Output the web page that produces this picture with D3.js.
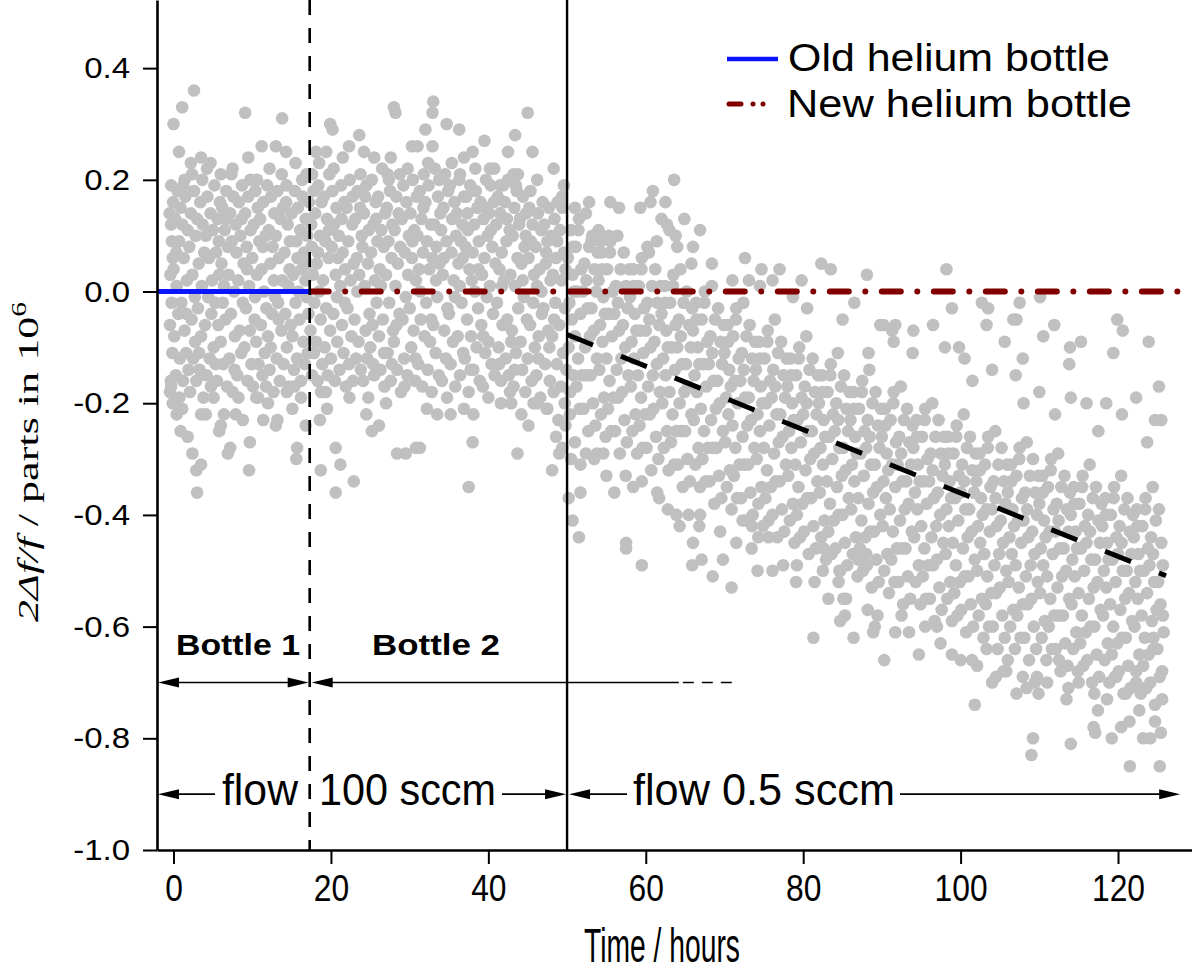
<!DOCTYPE html>
<html><head><meta charset="utf-8">
<script src="https://cdn.jsdelivr.net/npm/d3@7"></script>
<style>html,body{margin:0;padding:0;background:#fff}</style>
</head><body>
<svg id="chart" width="1192" height="976"></svg>
<script>
// ---------- data ----------
const xTicks = [0, 20, 40, 60, 80, 100, 120];
const yTicks = [-1.0, -0.8, -0.6, -0.4, -0.2, 0.0, 0.2, 0.4];
const xTitle = "Time / hours";
const legendLabels = ["Old helium bottle", "New helium bottle"];
const bottleChange = 17.3;   // hours
const flowChange = 50;       // hours
const oldBottleLevel = [[-2.1, 0], [17.3, 0]];
const newBottleLevel = [[17.3, 0], [129.4, 0]];
const driftFit = [[50, -0.077], [126.1, -0.509]];

const bottle1Points = [
[-0.5,0.14],[-0.45,-0.06],[-0.4,0.03],[-0.35,-0.16],[-0.3,0.19],[-0.25,-0.02],[-0.2,0.09],[-0.15,-0.11],[-0.1,0.06],[-0.05,0.16],[-0.45,-0.18],[-0.3,0.12],
[0.0,0.04],[0.1,-0.08],[0.2,0.13],[0.3,-0.15],[0.4,0.01],[0.5,0.18],[0.6,-0.04],[0.7,0.09],[0.8,-0.12],[0.9,0.15],[0.35,0.07],[0.75,-0.19],
[1.0,-0.02],[1.1,0.12],[1.2,-0.16],[1.3,0.06],[1.4,-0.07],[1.5,0.17],[1.6,-0.11],[1.7,0.02],[1.8,0.11],[1.9,-0.14],[1.25,0.19],[1.65,-0.04],
[2.0,0.08],[2.1,-0.18],[2.2,0.14],[2.3,-0.05],[2.4,0.03],[2.5,-0.12],[2.6,0.18],[2.7,-0.01],[2.8,0.10],[2.9,-0.16],[2.35,0.21],[2.75,-0.09],
[3.0,0.13],[3.1,-0.03],[3.2,0.05],[3.3,-0.14],[3.4,0.16],[3.5,-0.08],[3.6,0.01],[3.7,0.12],[3.8,-0.19],[3.9,0.07],[3.25,-0.11],[3.65,0.20],
[4.0,-0.06],[4.1,0.10],[4.2,-0.15],[4.3,0.17],[4.4,-0.01],[4.5,0.06],[4.6,-0.12],[4.7,0.14],[4.8,-0.04],[4.9,0.02],[4.25,0.22],[4.75,-0.17],
[5.0,0.11],[5.1,-0.10],[5.2,0.19],[5.3,-0.02],[5.4,0.07],[5.5,-0.16],[5.6,0.13],[5.7,-0.06],[5.8,0.03],[5.9,0.16],[5.35,-0.13],[5.75,0.09],
[6.0,-0.09],[6.1,0.05],[6.2,0.15],[6.3,-0.13],[6.4,0.01],[6.5,0.11],[6.6,-0.05],[6.7,0.18],[6.8,-0.17],[6.9,0.08],[6.25,-0.02],[6.65,0.13],
[7.0,0.03],[7.1,-0.12],[7.2,0.14],[7.3,-0.04],[7.4,0.09],[7.5,-0.18],[7.6,0.17],[7.7,0.00],[7.8,-0.08],[7.9,0.12],[7.35,0.21],[7.75,-0.14],
[8.0,0.07],[8.1,-0.15],[8.2,0.02],[8.3,0.16],[8.4,-0.07],[8.5,0.10],[8.6,-0.11],[8.7,0.19],[8.8,-0.02],[8.9,0.05],[8.25,-0.19],[8.65,0.13],
[9.0,-0.10],[9.1,0.14],[9.2,-0.03],[9.3,0.08],[9.4,-0.16],[9.5,0.17],[9.6,0.01],[9.7,-0.07],[9.8,0.11],[9.9,-0.13],[9.35,0.04],[9.75,0.20],
[10.0,0.06],[10.1,-0.17],[10.2,0.12],[10.3,-0.05],[10.4,0.18],[10.5,-0.09],[10.6,0.03],[10.7,0.15],[10.8,-0.13],[10.9,0.09],[10.35,-0.01],[10.75,-0.19],
[11.0,0.13],[11.1,-0.06],[11.2,0.04],[11.3,-0.15],[11.4,0.16],[11.5,0.00],[11.6,-0.11],[11.7,0.10],[11.8,-0.03],[11.9,0.19],[11.35,0.08],[11.75,-0.17],
[12.0,-0.08],[12.1,0.11],[12.2,-0.14],[12.3,0.05],[12.4,0.17],[12.5,-0.04],[12.6,0.08],[12.7,-0.18],[12.8,0.14],[12.9,-0.01],[12.35,-0.10],[12.75,0.02],
[13.0,0.10],[13.1,-0.12],[13.2,0.18],[13.3,-0.02],[13.4,0.06],[13.5,-0.16],[13.6,0.13],[13.7,-0.07],[13.8,0.02],[13.9,0.15],[13.35,-0.05],[13.75,0.21],
[14.0,-0.13],[14.1,0.07],[14.2,-0.04],[14.3,0.16],[14.4,-0.10],[14.5,0.12],[14.6,0.01],[14.7,-0.17],[14.8,0.09],[14.9,-0.06],[14.35,0.19],[14.75,0.04],
[15.0,0.14],[15.1,-0.08],[15.2,0.03],[15.3,-0.14],[15.4,0.18],[15.5,-0.02],[15.6,0.09],[15.7,-0.12],[15.8,0.15],[15.9,0.00],[15.35,-0.17],[15.75,0.06],
[16.0,-0.05],[16.1,0.11],[16.2,-0.16],[16.3,0.04],[16.4,0.17],[16.5,-0.09],[16.6,0.07],[16.7,-0.13],[16.8,0.13],[16.9,-0.01],[16.35,0.20],[16.75,0.02],
[17.0,0.10],[17.05,-0.11],[17.1,0.05],[17.15,-0.04],[17.2,0.16]
];
const bottle1Outliers = [
[0.0,0.30],[1.1,0.33],[2.6,0.36],[9.1,0.32],[13.8,0.31],[0.7,0.25],[11.2,0.26],[13.0,0.26],[14.3,0.25],[9.5,0.24],
[2.2,0.23],[3.5,0.24],[4.7,0.23],[1.4,0.20],[15.5,0.23],[16.9,0.21],[6.0,0.21],[7.5,0.22],[10.6,0.20],[12.2,0.22],
[3.0,-0.36],[9.6,-0.32],[3.5,-0.31],[2.9,-0.32],[2.4,-0.29],[1.8,-0.26],[0.9,-0.25],[6.9,-0.29],[7.2,-0.28],[9.7,-0.27],
[5.8,-0.25],[6.0,-0.24],[11.4,-0.23],[13.0,-0.24],[13.2,-0.23],[15.7,-0.28],[15.6,-0.30],[16.8,-0.24],[15.1,-0.21],[7.9,-0.22],
[6.4,-0.22],[3.5,-0.22],[4.1,-0.22],[1.1,-0.21],[-0.1,-0.20],[-0.3,-0.17],[0.4,-0.22],[10.5,-0.19],[12.0,-0.20],[14.4,-0.18],
[16.2,-0.19],[8.8,-0.23],[5.1,-0.19]
];
const bottle2Points = [
[17.4,-0.07],[17.5,0.12],[17.6,-0.15],[17.7,0.03],[17.8,0.18],[17.9,-0.02],[17.55,0.08],[17.85,-0.11],
[18.0,0.14],[18.1,-0.09],[18.2,0.05],[18.3,-0.16],[18.4,0.19],[18.5,0.00],[18.6,0.10],[18.7,-0.05],[18.8,0.16],[18.9,-0.13],[18.35,0.07],[18.75,-0.18],
[19.0,0.02],[19.1,0.17],[19.2,-0.10],[19.3,0.09],[19.4,-0.03],[19.5,0.13],[19.6,-0.15],[19.7,0.06],[19.8,0.21],[19.9,-0.07],[19.35,-0.18],[19.75,0.11],
[20.0,-0.12],[20.1,0.08],[20.2,0.18],[20.3,-0.04],[20.4,0.12],[20.5,-0.16],[20.6,0.03],[20.7,0.15],[20.8,-0.09],[20.9,0.06],[20.35,0.22],[20.75,-0.01],
[21.0,0.10],[21.1,-0.14],[21.2,0.01],[21.3,0.19],[21.4,-0.06],[21.5,0.07],[21.6,-0.11],[21.7,0.16],[21.8,0.04],[21.9,-0.17],[21.35,0.13],[21.75,-0.02],
[22.0,0.15],[22.1,-0.03],[22.2,0.09],[22.3,-0.13],[22.4,0.20],[22.5,0.02],[22.6,-0.08],[22.7,0.12],[22.8,-0.16],[22.9,0.05],[22.35,-0.19],[22.75,0.17],
[23.0,-0.05],[23.1,0.13],[23.2,-0.12],[23.3,0.06],[23.4,0.18],[23.5,-0.09],[23.6,0.03],[23.7,0.15],[23.8,-0.14],[23.9,0.10],[23.35,0.00],[23.75,0.21],
[24.0,0.08],[24.1,-0.16],[24.2,0.14],[24.3,0.01],[24.4,-0.07],[24.5,0.19],[24.6,-0.12],[24.7,0.05],[24.8,0.11],[24.9,-0.04],[24.35,0.17],[24.75,-0.19],
[25.0,-0.10],[25.1,0.07],[25.2,0.20],[25.3,-0.06],[25.4,0.12],[25.5,-0.15],[25.6,0.02],[25.7,0.16],[25.8,-0.02],[25.9,0.09],[25.35,-0.13],[25.75,0.13],
[26.0,0.17],[26.1,-0.08],[26.2,0.04],[26.3,-0.14],[26.4,0.11],[26.5,0.22],[26.6,-0.05],[26.7,0.08],[26.8,-0.17],[26.9,0.14],[26.35,0.01],[26.75,-0.11],
[27.0,0.03],[27.1,0.15],[27.2,-0.11],[27.3,0.09],[27.4,-0.02],[27.5,0.18],[27.6,-0.16],[27.7,0.06],[27.8,0.12],[27.9,-0.07],[27.35,0.20],[27.75,-0.13],
[28.0,-0.09],[28.1,0.11],[28.2,0.01],[28.3,0.17],[28.4,-0.14],[28.5,0.05],[28.6,0.14],[28.7,-0.04],[28.8,0.08],[28.9,-0.18],[28.35,-0.06],[28.75,0.21],
[29.0,0.13],[29.1,-0.05],[29.2,0.19],[29.3,-0.12],[29.4,0.07],[29.5,-0.01],[29.6,0.16],[29.7,-0.15],[29.8,0.03],[29.9,0.10],[29.35,-0.17],[29.75,0.22],
[30.0,-0.03],[30.1,0.14],[30.2,-0.10],[30.3,0.06],[30.4,0.20],[30.5,-0.07],[30.6,0.11],[30.7,-0.16],[30.8,0.02],[30.9,0.17],[30.35,0.09],[30.75,-0.12],
[31.0,0.10],[31.1,-0.13],[31.2,0.04],[31.3,0.18],[31.4,-0.05],[31.5,0.13],[31.6,-0.17],[31.7,0.07],[31.8,0.21],[31.9,-0.08],[31.35,0.00],[31.75,0.15],
[32.0,0.16],[32.1,-0.02],[32.2,0.09],[32.3,-0.14],[32.4,0.19],[32.5,0.04],[32.6,-0.09],[32.7,0.12],[32.8,-0.18],[32.9,0.06],[32.35,0.23],[32.75,-0.05],
[33.0,-0.06],[33.1,0.12],[33.2,0.22],[33.3,-0.11],[33.4,0.08],[33.5,-0.01],[33.6,0.17],[33.7,-0.15],[33.8,0.05],[33.9,0.14],[33.35,0.02],[33.75,0.20],
[34.0,0.11],[34.1,-0.16],[34.2,0.03],[34.3,0.15],[34.4,-0.07],[34.5,0.21],[34.6,-0.12],[34.7,0.09],[34.8,-0.03],[34.9,0.18],[34.35,0.06],[34.75,-0.19],
[35.0,-0.04],[35.1,0.19],[35.2,-0.13],[35.3,0.07],[35.4,0.13],[35.5,-0.09],[35.6,0.02],[35.7,0.16],[35.8,-0.17],[35.9,0.10],[35.35,0.23],[35.75,-0.01],
[36.0,0.14],[36.1,-0.08],[36.2,0.05],[36.3,0.20],[36.4,-0.15],[36.5,0.09],[36.6,-0.02],[36.7,0.12],[36.8,-0.11],[36.9,0.17],[36.35,0.01],[36.75,0.06],
[37.0,-0.12],[37.1,0.08],[37.2,0.17],[37.3,-0.05],[37.4,0.11],[37.5,-0.18],[37.6,0.04],[37.7,0.19],[37.8,-0.08],[37.9,0.02],[37.35,0.14],[37.75,-0.14],
[38.0,0.07],[38.1,-0.14],[38.2,0.12],[38.3,0.00],[38.4,0.18],[38.5,-0.10],[38.6,0.15],[38.7,-0.03],[38.8,0.09],[38.9,-0.16],[38.35,0.22],[38.75,0.04],
[39.0,0.16],[39.1,-0.06],[39.2,0.03],[39.3,-0.17],[39.4,0.13],[39.5,0.06],[39.6,-0.11],[39.7,0.20],[39.8,-0.01],[39.9,0.10],[39.35,-0.08],[39.75,0.15],
[40.0,-0.09],[40.1,0.14],[40.2,0.01],[40.3,0.19],[40.4,-0.13],[40.5,0.08],[40.6,-0.04],[40.7,0.16],[40.8,-0.15],[40.9,0.05],[40.35,0.11],[40.75,0.22],
[41.0,0.12],[41.1,-0.02],[41.2,0.17],[41.3,-0.10],[41.4,0.04],[41.5,0.14],[41.6,-0.16],[41.7,0.07],[41.8,-0.06],[41.9,0.19],[41.35,-0.13],[41.75,0.01],
[42.0,0.02],[42.1,0.16],[42.2,-0.12],[42.3,0.09],[42.4,-0.05],[42.5,0.20],[42.6,-0.15],[42.7,0.11],[42.8,0.03],[42.9,-0.09],[42.35,0.13],[42.75,-0.18],
[43.0,-0.07],[43.1,0.10],[43.2,-0.17],[43.3,0.15],[43.4,0.01],[43.5,-0.11],[43.6,0.18],[43.7,0.06],[43.8,-0.03],[43.9,0.12],[43.35,-0.14],[43.75,0.21],
[44.0,0.13],[44.1,-0.09],[44.2,0.05],[44.3,-0.14],[44.4,0.17],[44.5,-0.01],[44.6,0.08],[44.7,-0.18],[44.8,0.14],[44.9,-0.05],[44.35,0.02],[44.75,0.10],
[45.0,-0.12],[45.1,0.06],[45.2,0.15],[45.3,-0.06],[45.4,0.09],[45.5,-0.16],[45.6,0.12],[45.7,-0.02],[45.8,0.03],[45.9,-0.10],[45.35,0.18],[45.75,-0.20],
[46.0,0.08],[46.1,-0.15],[46.2,0.01],[46.3,0.14],[46.4,-0.08],[46.5,0.04],[46.6,-0.19],[46.7,0.11],[46.8,-0.04],[46.9,0.16],[46.35,-0.12],[46.75,0.00],
[47.0,-0.03],[47.1,0.12],[47.2,-0.13],[47.3,0.05],[47.4,-0.21],[47.5,0.09],[47.6,-0.07],[47.7,0.15],[47.8,-0.16],[47.9,0.02],[47.35,0.07],[47.75,-0.10],
[48.0,0.10],[48.1,-0.08],[48.2,0.03],[48.3,-0.18],[48.4,0.13],[48.5,-0.02],[48.6,0.06],[48.7,-0.13],[48.8,0.16],[48.9,-0.23],[48.35,-0.05],[48.75,0.09],
[49.0,-0.06],[49.1,0.11],[49.2,-0.17],[49.3,0.02],[49.4,0.15],[49.5,-0.11],[49.6,0.07],[49.7,-0.20],[49.8,0.04],[49.9,-0.14],[49.35,0.17],[49.75,-0.03]
];
const bottle2Outliers = [
[19.9,0.30],[20.2,0.29],[23.6,0.28],[28.0,0.33],[28.2,0.32],[24.2,0.25],[25.5,0.24],[27.2,0.21],[27.6,0.24],[30.3,0.26],
[33.0,0.34],[32.9,0.32],[32.0,0.29],[34.7,0.30],[36.3,0.29],[32.9,0.26],[31.0,0.26],[36.9,0.24],[36.4,0.21],[45.0,0.32],
[43.4,0.28],[42.5,0.25],[45.6,0.25],[40.2,0.22],[43.2,0.21],[41.5,0.19],[43.5,0.19],[46.2,0.20],[48.3,0.22],[49.6,0.19],
[18.5,0.23],[21.5,0.24],[19.4,0.25],[38.0,0.25],[39.5,0.27],[22.3,0.26],[17.6,0.21],[18.1,0.25],
[18.7,-0.32],[20.6,-0.28],[21.2,-0.31],[22.9,-0.34],[20.6,-0.36],[18.6,-0.23],[26.1,-0.24],[28.4,-0.29],[29.5,-0.29],[30.8,-0.28],
[37.5,-0.35],[43.7,-0.29],[38.0,-0.27],[31.3,-0.28],[32.2,-0.21],[33.5,-0.22],[35.2,-0.22],[36.9,-0.21],[38.1,-0.22],[45.1,-0.24],
[41.6,-0.20],[42.9,-0.20],[46.2,-0.20],[47.5,-0.21],[48.1,-0.32],[49.4,-0.28],[49.0,-0.29],[19.5,-0.21],[24.5,-0.22],[27.0,-0.20],
[25.2,-0.25],[40.0,-0.19],[44.2,-0.22],[48.6,-0.26],[49.8,-0.24]
];
const lowFlowPoints = [
[50.1,0.06],[50.2,-0.10],[50.3,-0.02],[50.4,-0.18],[50.5,0.11],[50.6,-0.05],[50.7,0.03],[50.8,-0.15],[50.9,0.00],[50.35,-0.22],[50.75,0.08],
[51.0,-0.08],[51.1,0.08],[51.2,-0.17],[51.3,0.00],[51.4,-0.12],[51.5,0.13],[51.6,-0.21],[51.7,-0.04],[51.8,0.04],[51.9,-0.15],[51.45,0.11],
[52.0,0.00],[52.1,-0.21],[52.2,0.05],[52.3,-0.10],[52.4,0.14],[52.5,-0.15],[52.6,-0.03],[52.7,-0.25],[52.8,0.08],[52.9,-0.08],[52.45,0.02],
[53.0,-0.15],[53.1,-0.03],[53.2,0.10],[53.3,-0.20],[53.4,-0.07],[53.5,0.04],[53.6,-0.24],[53.7,0.00],[53.8,-0.12],[53.9,0.07],[53.45,-0.30],
[54.0,0.02],[54.1,-0.14],[54.2,-0.06],[54.3,-0.22],[54.4,0.07],[54.5,-0.09],[54.6,-0.01],[54.7,-0.19],[54.8,-0.04],[54.9,-0.26],[54.45,0.04],
[55.0,-0.12],[55.1,0.04],[55.2,-0.21],[55.3,-0.04],[55.4,-0.16],[55.5,0.09],[55.6,-0.25],[55.7,-0.08],[55.8,0.00],[55.9,-0.19],[55.45,0.07],
[56.0,-0.04],[56.1,-0.25],[56.2,0.01],[56.3,-0.14],[56.4,0.10],[56.5,-0.19],[56.6,-0.07],[56.7,-0.29],[56.8,0.04],[56.9,-0.12],[56.45,-0.02],
[57.0,-0.18],[57.1,-0.06],[57.2,0.07],[57.3,-0.23],[57.4,-0.10],[57.5,0.01],[57.6,-0.27],[57.7,-0.03],[57.8,-0.15],[57.9,0.04],[57.45,-0.33],
[58.0,-0.01],[58.1,-0.17],[58.2,-0.09],[58.3,-0.25],[58.4,0.04],[58.5,-0.12],[58.6,-0.04],[58.7,-0.22],[58.8,-0.07],[58.9,-0.29],[58.45,0.01],
[59.0,-0.15],[59.1,0.01],[59.2,-0.24],[59.3,-0.07],[59.4,-0.19],[59.5,0.06],[59.6,-0.28],[59.7,-0.11],[59.8,-0.03],[59.9,-0.22],[59.45,0.04],
[60.0,-0.07],[60.1,-0.28],[60.2,-0.02],[60.3,-0.17],[60.4,0.07],[60.5,-0.22],[60.6,-0.10],[60.7,-0.32],[60.8,0.01],[60.9,-0.15],[60.45,-0.05],
[61.0,-0.21],[61.1,-0.09],[61.2,0.04],[61.3,-0.26],[61.4,-0.13],[61.5,-0.02],[61.6,-0.30],[61.7,-0.06],[61.8,-0.18],[61.9,0.01],[61.45,-0.36],
[62.0,-0.04],[62.1,-0.20],[62.2,-0.12],[62.3,-0.28],[62.4,0.01],[62.5,-0.15],[62.6,-0.07],[62.7,-0.25],[62.8,-0.10],[62.9,-0.32],[62.45,-0.02],
[63.0,-0.18],[63.1,-0.02],[63.2,-0.27],[63.3,-0.10],[63.4,-0.22],[63.5,0.03],[63.6,-0.31],[63.7,-0.14],[63.8,-0.06],[63.9,-0.25],[63.45,0.01],
[64.0,-0.10],[64.1,-0.31],[64.2,-0.05],[64.3,-0.20],[64.4,0.04],[64.5,-0.25],[64.6,-0.13],[64.7,-0.35],[64.8,-0.02],[64.9,-0.18],[64.45,-0.08],
[65.0,-0.25],[65.1,-0.13],[65.2,0.00],[65.3,-0.30],[65.4,-0.17],[65.5,-0.06],[65.6,-0.34],[65.7,-0.10],[65.8,-0.22],[65.9,-0.03],[65.45,-0.40],
[66.0,-0.07],[66.1,-0.23],[66.2,-0.15],[66.3,-0.31],[66.4,-0.02],[66.5,-0.18],[66.6,-0.10],[66.7,-0.28],[66.8,-0.13],[66.9,-0.35],[66.45,-0.05],
[67.0,-0.21],[67.1,-0.05],[67.2,-0.30],[67.3,-0.13],[67.4,-0.25],[67.5,0.00],[67.6,-0.34],[67.7,-0.17],[67.8,-0.09],[67.9,-0.28],[67.45,-0.02],
[68.0,-0.13],[68.1,-0.34],[68.2,-0.08],[68.3,-0.23],[68.4,0.01],[68.5,-0.28],[68.6,-0.16],[68.7,-0.38],[68.8,-0.05],[68.9,-0.21],[68.45,-0.11],
[69.0,-0.28],[69.1,-0.16],[69.2,-0.03],[69.3,-0.33],[69.4,-0.20],[69.5,-0.09],[69.6,-0.37],[69.7,-0.13],[69.8,-0.25],[69.9,-0.06],[69.45,-0.43],
[70.0,-0.11],[70.1,-0.27],[70.2,-0.19],[70.3,-0.35],[70.4,-0.06],[70.5,-0.22],[70.6,-0.14],[70.7,-0.32],[70.8,-0.17],[70.9,-0.39],[70.45,-0.09],
[71.0,-0.24],[71.1,-0.08],[71.2,-0.33],[71.3,-0.16],[71.4,-0.28],[71.5,-0.03],[71.6,-0.37],[71.7,-0.20],[71.8,-0.12],[71.9,-0.31],[71.45,-0.05],
[72.0,-0.16],[72.1,-0.37],[72.2,-0.11],[72.3,-0.26],[72.4,-0.02],[72.5,-0.31],[72.6,-0.19],[72.7,-0.41],[72.8,-0.08],[72.9,-0.24],[72.45,-0.14],
[73.0,-0.31],[73.1,-0.19],[73.2,-0.06],[73.3,-0.36],[73.4,-0.23],[73.5,-0.12],[73.6,-0.40],[73.7,-0.16],[73.8,-0.28],[73.9,-0.09],[73.45,-0.46],
[74.0,-0.14],[74.1,-0.30],[74.2,-0.22],[74.3,-0.38],[74.4,-0.09],[74.5,-0.25],[74.6,-0.17],[74.7,-0.35],[74.8,-0.20],[74.9,-0.42],[74.45,-0.12],
[75.0,-0.28],[75.1,-0.12],[75.2,-0.37],[75.3,-0.20],[75.4,-0.32],[75.5,-0.07],[75.6,-0.41],[75.7,-0.24],[75.8,-0.16],[75.9,-0.35],[75.45,-0.09],
[76.0,-0.19],[76.1,-0.40],[76.2,-0.14],[76.3,-0.29],[76.4,-0.05],[76.5,-0.34],[76.6,-0.22],[76.7,-0.44],[76.8,-0.11],[76.9,-0.27],[76.45,-0.17],
[77.0,-0.34],[77.1,-0.22],[77.2,-0.09],[77.3,-0.39],[77.4,-0.26],[77.5,-0.15],[77.6,-0.43],[77.7,-0.19],[77.8,-0.31],[77.9,-0.12],[77.45,-0.49],
[78.0,-0.17],[78.1,-0.33],[78.2,-0.25],[78.3,-0.41],[78.4,-0.12],[78.5,-0.28],[78.6,-0.20],[78.7,-0.38],[78.8,-0.23],[78.9,-0.45],[78.45,-0.15],
[79.0,-0.31],[79.1,-0.15],[79.2,-0.40],[79.3,-0.23],[79.4,-0.35],[79.5,-0.10],[79.6,-0.44],[79.7,-0.27],[79.8,-0.19],[79.9,-0.38],[79.45,-0.12],
[80.0,-0.22],[80.1,-0.43],[80.2,-0.17],[80.3,-0.32],[80.4,-0.08],[80.5,-0.37],[80.6,-0.25],[80.7,-0.47],[80.8,-0.14],[80.9,-0.30],[80.45,-0.20],
[81.0,-0.37],[81.1,-0.25],[81.2,-0.12],[81.3,-0.42],[81.4,-0.29],[81.5,-0.18],[81.6,-0.46],[81.7,-0.22],[81.8,-0.34],[81.9,-0.15],[81.45,-0.52],
[82.0,-0.20],[82.1,-0.36],[82.2,-0.28],[82.3,-0.44],[82.4,-0.15],[82.5,-0.31],[82.6,-0.23],[82.7,-0.41],[82.8,-0.26],[82.9,-0.48],[82.45,-0.18],
[83.0,-0.34],[83.1,-0.18],[83.2,-0.43],[83.3,-0.26],[83.4,-0.38],[83.5,-0.13],[83.6,-0.47],[83.7,-0.30],[83.8,-0.22],[83.9,-0.41],[83.45,-0.15],
[84.0,-0.25],[84.1,-0.46],[84.2,-0.20],[84.3,-0.35],[84.4,-0.11],[84.5,-0.40],[84.6,-0.28],[84.7,-0.50],[84.8,-0.17],[84.9,-0.33],[84.45,-0.23],
[85.0,-0.40],[85.1,-0.28],[85.2,-0.15],[85.3,-0.45],[85.4,-0.32],[85.5,-0.21],[85.6,-0.49],[85.7,-0.25],[85.8,-0.37],[85.9,-0.18],[85.45,-0.55],
[86.0,-0.23],[86.1,-0.39],[86.2,-0.31],[86.3,-0.47],[86.4,-0.18],[86.5,-0.34],[86.6,-0.26],[86.7,-0.44],[86.8,-0.29],[86.9,-0.51],[86.45,-0.21],
[87.0,-0.37],[87.1,-0.21],[87.2,-0.46],[87.3,-0.29],[87.4,-0.41],[87.5,-0.16],[87.6,-0.50],[87.7,-0.33],[87.8,-0.25],[87.9,-0.44],[87.45,-0.18],
[88.0,-0.28],[88.1,-0.49],[88.2,-0.23],[88.3,-0.38],[88.4,-0.14],[88.5,-0.43],[88.6,-0.31],[88.7,-0.53],[88.8,-0.20],[88.9,-0.36],[88.45,-0.26],
[89.0,-0.43],[89.1,-0.31],[89.2,-0.18],[89.3,-0.48],[89.4,-0.35],[89.5,-0.24],[89.6,-0.52],[89.7,-0.28],[89.8,-0.40],[89.9,-0.21],[89.45,-0.58],
[90.0,-0.26],[90.1,-0.42],[90.2,-0.34],[90.3,-0.50],[90.4,-0.21],[90.5,-0.37],[90.6,-0.29],[90.7,-0.47],[90.8,-0.32],[90.9,-0.54],[90.45,-0.24],
[91.0,-0.39],[91.1,-0.23],[91.2,-0.48],[91.3,-0.31],[91.4,-0.43],[91.5,-0.18],[91.6,-0.52],[91.7,-0.35],[91.8,-0.27],[91.9,-0.46],[91.45,-0.20],
[92.0,-0.31],[92.1,-0.52],[92.2,-0.26],[92.3,-0.41],[92.4,-0.17],[92.5,-0.46],[92.6,-0.34],[92.7,-0.56],[92.8,-0.23],[92.9,-0.39],[92.45,-0.29],
[93.0,-0.46],[93.1,-0.34],[93.2,-0.21],[93.3,-0.51],[93.4,-0.38],[93.5,-0.27],[93.6,-0.55],[93.7,-0.31],[93.8,-0.43],[93.9,-0.24],[93.45,-0.61],
[94.0,-0.28],[94.1,-0.44],[94.2,-0.36],[94.3,-0.52],[94.4,-0.23],[94.5,-0.39],[94.6,-0.31],[94.7,-0.49],[94.8,-0.34],[94.9,-0.56],[94.45,-0.26],
[95.0,-0.42],[95.1,-0.26],[95.2,-0.51],[95.3,-0.34],[95.4,-0.46],[95.5,-0.21],[95.6,-0.55],[95.7,-0.38],[95.8,-0.30],[95.9,-0.49],[95.45,-0.23],
[96.0,-0.34],[96.1,-0.55],[96.2,-0.29],[96.3,-0.44],[96.4,-0.20],[96.5,-0.49],[96.6,-0.37],[96.7,-0.59],[96.8,-0.26],[96.9,-0.42],[96.45,-0.32],
[97.0,-0.48],[97.1,-0.36],[97.2,-0.23],[97.3,-0.53],[97.4,-0.40],[97.5,-0.29],[97.6,-0.57],[97.7,-0.33],[97.8,-0.45],[97.9,-0.26],[97.45,-0.63],
[98.0,-0.31],[98.1,-0.47],[98.2,-0.39],[98.3,-0.55],[98.4,-0.26],[98.5,-0.42],[98.6,-0.34],[98.7,-0.52],[98.8,-0.37],[98.9,-0.59],[98.45,-0.29],
[99.0,-0.45],[99.1,-0.29],[99.2,-0.54],[99.3,-0.37],[99.4,-0.49],[99.5,-0.24],[99.6,-0.58],[99.7,-0.41],[99.8,-0.33],[99.9,-0.52],[99.45,-0.26],
[100.0,-0.36],[100.1,-0.57],[100.2,-0.31],[100.3,-0.46],[100.4,-0.22],[100.5,-0.51],[100.6,-0.39],[100.7,-0.61],[100.8,-0.28],[100.9,-0.44],[100.45,-0.34],
[101.0,-0.51],[101.1,-0.39],[101.2,-0.26],[101.3,-0.56],[101.4,-0.43],[101.5,-0.32],[101.6,-0.60],[101.7,-0.36],[101.8,-0.48],[101.9,-0.29],[101.45,-0.66],
[102.0,-0.34],[102.1,-0.50],[102.2,-0.42],[102.3,-0.58],[102.4,-0.29],[102.5,-0.45],[102.6,-0.37],[102.7,-0.55],[102.8,-0.40],[102.9,-0.62],[102.45,-0.32],
[103.0,-0.47],[103.1,-0.31],[103.2,-0.56],[103.3,-0.39],[103.4,-0.51],[103.5,-0.26],[103.6,-0.60],[103.7,-0.43],[103.8,-0.35],[103.9,-0.54],[103.45,-0.28],
[104.0,-0.39],[104.1,-0.60],[104.2,-0.34],[104.3,-0.49],[104.4,-0.25],[104.5,-0.54],[104.6,-0.42],[104.7,-0.64],[104.8,-0.31],[104.9,-0.47],[104.45,-0.37],
[105.0,-0.53],[105.1,-0.41],[105.2,-0.28],[105.3,-0.58],[105.4,-0.45],[105.5,-0.34],[105.6,-0.62],[105.7,-0.38],[105.8,-0.50],[105.9,-0.31],[105.45,-0.68],
[106.0,-0.36],[106.1,-0.52],[106.2,-0.44],[106.3,-0.60],[106.4,-0.31],[106.5,-0.47],[106.6,-0.39],[106.7,-0.57],[106.8,-0.42],[106.9,-0.64],[106.45,-0.34],
[107.0,-0.49],[107.1,-0.33],[107.2,-0.58],[107.3,-0.41],[107.4,-0.53],[107.5,-0.28],[107.6,-0.62],[107.7,-0.45],[107.8,-0.37],[107.9,-0.56],[107.45,-0.30],
[108.0,-0.41],[108.1,-0.62],[108.2,-0.36],[108.3,-0.51],[108.4,-0.27],[108.5,-0.56],[108.6,-0.44],[108.7,-0.66],[108.8,-0.33],[108.9,-0.49],[108.45,-0.39],
[109.0,-0.55],[109.1,-0.43],[109.2,-0.30],[109.3,-0.60],[109.4,-0.47],[109.5,-0.36],[109.6,-0.64],[109.7,-0.40],[109.8,-0.52],[109.9,-0.33],[109.45,-0.70],
[110.0,-0.38],[110.1,-0.54],[110.2,-0.46],[110.3,-0.62],[110.4,-0.33],[110.5,-0.49],[110.6,-0.41],[110.7,-0.59],[110.8,-0.44],[110.9,-0.66],[110.45,-0.36],
[111.0,-0.51],[111.1,-0.35],[111.2,-0.60],[111.3,-0.43],[111.4,-0.55],[111.5,-0.30],[111.6,-0.64],[111.7,-0.47],[111.8,-0.39],[111.9,-0.58],[111.45,-0.32],
[112.0,-0.43],[112.1,-0.64],[112.2,-0.38],[112.3,-0.53],[112.4,-0.29],[112.5,-0.58],[112.6,-0.46],[112.7,-0.68],[112.8,-0.35],[112.9,-0.51],[112.45,-0.41],
[113.0,-0.58],[113.1,-0.46],[113.2,-0.33],[113.3,-0.63],[113.4,-0.50],[113.5,-0.39],[113.6,-0.67],[113.7,-0.43],[113.8,-0.55],[113.9,-0.36],[113.45,-0.73],
[114.0,-0.40],[114.1,-0.56],[114.2,-0.48],[114.3,-0.64],[114.4,-0.35],[114.5,-0.51],[114.6,-0.43],[114.7,-0.61],[114.8,-0.46],[114.9,-0.68],[114.45,-0.38],
[115.0,-0.54],[115.1,-0.38],[115.2,-0.63],[115.3,-0.46],[115.4,-0.58],[115.5,-0.33],[115.6,-0.67],[115.7,-0.50],[115.8,-0.42],[115.9,-0.61],[115.45,-0.35],
[116.0,-0.45],[116.1,-0.66],[116.2,-0.40],[116.3,-0.55],[116.4,-0.31],[116.5,-0.60],[116.6,-0.48],[116.7,-0.70],[116.8,-0.37],[116.9,-0.53],[116.45,-0.43],
[117.0,-0.60],[117.1,-0.48],[117.2,-0.35],[117.3,-0.65],[117.4,-0.52],[117.5,-0.41],[117.6,-0.69],[117.7,-0.45],[117.8,-0.57],[117.9,-0.38],[117.45,-0.75],
[118.0,-0.42],[118.1,-0.58],[118.2,-0.50],[118.3,-0.66],[118.4,-0.37],[118.5,-0.53],[118.6,-0.45],[118.7,-0.63],[118.8,-0.48],[118.9,-0.70],[118.45,-0.40],
[119.0,-0.56],[119.1,-0.40],[119.2,-0.65],[119.3,-0.48],[119.4,-0.60],[119.5,-0.35],[119.6,-0.69],[119.7,-0.52],[119.8,-0.44],[119.9,-0.63],[119.45,-0.37],
[120.0,-0.47],[120.1,-0.68],[120.2,-0.42],[120.3,-0.57],[120.4,-0.33],[120.5,-0.62],[120.6,-0.50],[120.7,-0.72],[120.8,-0.39],[120.9,-0.55],[120.45,-0.45],
[121.0,-0.62],[121.1,-0.50],[121.2,-0.37],[121.3,-0.67],[121.4,-0.54],[121.5,-0.43],[121.6,-0.71],[121.7,-0.47],[121.8,-0.59],[121.9,-0.40],[121.45,-0.77],
[122.0,-0.44],[122.1,-0.60],[122.2,-0.52],[122.3,-0.68],[122.4,-0.39],[122.5,-0.55],[122.6,-0.47],[122.7,-0.65],[122.8,-0.50],[122.9,-0.72],[122.45,-0.42],
[123.0,-0.58],[123.1,-0.42],[123.2,-0.67],[123.3,-0.50],[123.4,-0.62],[123.5,-0.37],[123.6,-0.71],[123.7,-0.54],[123.8,-0.46],[123.9,-0.65],[123.45,-0.39],
[124.0,-0.49],[124.1,-0.70],[124.2,-0.44],[124.3,-0.59],[124.4,-0.35],[124.5,-0.64],[124.6,-0.52],[124.7,-0.74],[124.8,-0.41],[124.9,-0.57],[124.45,-0.47],
[125.0,-0.64],[125.1,-0.52],[125.2,-0.39],[125.3,-0.69],[125.4,-0.56],[125.5,-0.45],[125.6,-0.73],[125.7,-0.49],[125.8,-0.61],[125.45,-0.79]
];
const lowFlowOutliers = [
[52.8,0.16],[55.5,0.16],[56.6,0.15],[59.3,0.15],[60.6,0.16],[60.9,0.18],[62.5,0.16],[63.6,0.20],[51.0,0.15],[62.0,0.13],
[62.7,0.12],[64.9,0.13],[66.9,0.11],[54.0,0.11],[55.3,0.10],[53.1,0.09],[54.3,0.09],[63.0,0.11],[63.8,0.10],[61.4,0.09],
[60.2,0.08],[64.0,0.08],[66.0,0.08],[72.6,0.06],[74.7,0.04],[77.0,0.04],[68.4,0.05],[65.8,0.05],[82.3,0.05],[83.5,0.04],
[88.1,0.03],[71.0,0.02],[73.1,0.02],[74.5,0.01],[76.1,0.02],[79.8,0.02],[78.7,-0.01],[89.8,-0.06],[98.2,0.04],[98.9,-0.03],
[102.7,-0.02],[103.5,-0.03],[107.5,-0.02],[110.1,-0.01],[96.5,-0.06],[103.3,-0.06],[106.7,-0.05],[107.1,-0.05],[90.2,-0.06],[91.7,-0.06],
[91.3,-0.07],[91.5,-0.09],[111.9,-0.06],[110.5,-0.08],[119.9,-0.05],[120.6,-0.07],[123.9,-0.09],[119.4,-0.11],[113.9,-0.10],[115.3,-0.09],
[113.8,-0.13],[105.6,-0.09],[107.9,-0.12],[107.0,-0.15],[98.0,-0.10],[99.8,-0.10],[93.9,-0.11],[88.3,-0.11],[125.2,-0.17],[124.7,-0.23],
[125.5,-0.23],[123.7,-0.27],[118.5,-0.20],[120.5,-0.22],[122.3,-0.19],[114.0,-0.19],[116.0,-0.20],[110.0,-0.18],[108.0,-0.20],[85.0,-0.05],
[80.5,-0.03],[86.5,-0.02],[94.0,-0.07],[100.5,-0.12],[101.5,-0.16],[104.0,-0.14],[117.5,-0.25],[112.0,-0.22],
[50.2,-0.37],[50.7,-0.41],[51.5,-0.44],[51.7,-0.36],[51.7,-0.31],[52.4,-0.29],[50.5,-0.30],[51.0,-0.27],[53.8,-0.29],[54.6,-0.29],
[59.5,-0.49],[57.5,-0.45],[57.5,-0.46],[64.3,-0.42],[66.9,-0.40],[66.8,-0.42],[66.0,-0.45],[65.9,-0.49],[67.1,-0.48],[69.8,-0.48],
[68.5,-0.51],[70.9,-0.53],[71.5,-0.45],[74.2,-0.50],[76.1,-0.50],[79.2,-0.49],[79.1,-0.52],[82.6,-0.46],[82.5,-0.50],[83.2,-0.55],
[85.1,-0.55],[84.6,-0.50],[84.5,-0.52],[85.3,-0.58],[84.7,-0.59],[81.3,-0.62],[86.4,-0.62],[88.0,-0.47],[87.0,-0.48],[88.2,-0.57],
[72.3,-0.41],[73.5,-0.42],[74.3,-0.44],[75.6,-0.44],[61.7,-0.37],[62.8,-0.39],[63.9,-0.40],[58.4,-0.35],[59.5,-0.34],[56.0,-0.36],
[55.0,-0.33],[101.8,-0.74],[109.2,-0.80],[109.0,-0.83],[114.0,-0.81],[116.9,-0.78],[117.1,-0.79],[119.2,-0.80],[120.4,-0.78],[122.7,-0.75],
[124.7,-0.77],[123.2,-0.80],[124.1,-0.80],[121.5,-0.85],[125.3,-0.85],[118.6,-0.73],[113.7,-0.71],[107.1,-0.72],[108.4,-0.71],[109.9,-0.72],
[107.9,-0.69],[109.7,-0.69],[104.5,-0.69],[105.8,-0.68],[103.3,-0.64],[102.1,-0.67],[98.9,-0.65],[94.7,-0.65],[90.3,-0.66],[91.7,-0.61],
[88.9,-0.61],[89.1,-0.60],[125.6,-0.68],[122.3,-0.70],[123.0,-0.71],[112.5,-0.66],[115.0,-0.70],[117.0,-0.72],[119.8,-0.69],[121.0,-0.72],
[124.5,-0.62],[125.7,-0.58],[92.5,-0.58],[95.5,-0.60],[97.0,-0.60],[100.0,-0.66],[104.0,-0.70],[111.0,-0.70],[106.0,-0.66]
];

// annotation spans (hours) and levels (parts in 10^6)
const bottleArrowLevel = -0.7, flowArrowLevel = -0.9;
const bottle1Span = [-2.1, 17.3];
const bottle2Span = [17.3, 64.2, 71.0];   // solid to 64.2, dashed to 71.0
const flowSpans = [[-2.1, 50], [50, 127.9]];

// ---------- drawing ----------
const svg = d3.select("#chart");
const FONT = "'Liberation Sans', Arial, Helvetica, sans-serif";
const x = d3.scaleLinear().domain([-2.1, 129.4]).range([157, 1192]);
const y = d3.scaleLinear().domain([-1.0, 0.522]).range([850, 0]);

// scatter
const allPoints = [].concat(bottle1Points, bottle1Outliers, bottle2Points, bottle2Outliers, lowFlowPoints, lowFlowOutliers);
svg.append("g").selectAll("circle").data(allPoints).join("circle")
  .attr("cx", d => x(d[0])).attr("cy", d => y(d[1])).attr("r", 6.3)
  .attr("fill", "#c0c0c0");

// reference levels
const line = d3.line().x(d => x(d[0])).y(d => y(d[1]));
svg.append("path").attr("d", line(newBottleLevel)).attr("fill", "none")
  .attr("stroke", "#800000").attr("stroke-width", 6).attr("stroke-linecap", "round")
  .attr("stroke-dasharray", "19,16.5,0.01,16.5");
svg.append("path").attr("d", line(oldBottleLevel)).attr("fill", "none")
  .attr("stroke", "#0a14ff").attr("stroke-width", 5);

// vertical markers
svg.append("line").attr("x1", x(bottleChange)).attr("x2", x(bottleChange))
  .attr("y1", 0).attr("y2", 850).attr("stroke", "#000").attr("stroke-width", 2.6)
  .attr("stroke-dasharray", "15,13");
svg.append("line").attr("x1", x(flowChange)).attr("x2", x(flowChange))
  .attr("y1", 0).attr("y2", 850).attr("stroke", "#000").attr("stroke-width", 2.4);

// drift fit
svg.append("path").attr("d", line(driftFit)).attr("fill", "none")
  .attr("stroke", "#000").attr("stroke-width", 5).attr("stroke-dasharray", "28,30");

// axes
const yAxis = d3.axisLeft(y).tickValues(yTicks).tickFormat(d => d.toFixed(1))
  .tickSize(14).tickSizeOuter(0).tickPadding(13);
const gy = svg.append("g").attr("transform", "translate(157,0)").call(yAxis);
gy.select(".domain").attr("stroke-width", 2.6);
gy.selectAll(".tick line").attr("stroke-width", 2);
gy.selectAll(".tick text").attr("font-size", 30).attr("font-family", FONT).attr("fill", "#000")
  .attr("transform", "translate(-27,0) scale(1.1,1) translate(27,0)");

const xAxis = d3.axisBottom(x).tickValues(xTicks).tickFormat(d => d)
  .tickSize(14).tickSizeOuter(0).tickPadding(11);
const gx = svg.append("g").attr("transform", "translate(0,850)").call(xAxis);
gx.select(".domain").attr("stroke-width", 2.6);
gx.selectAll(".tick line").attr("stroke-width", 2);
gx.selectAll(".tick text").attr("font-size", 37).attr("font-family", FONT).attr("fill", "#000")
  .attr("transform", "scale(0.86,1)");

// text helper: place text with a given width (start anchored)
function fitText(str, x0, y0, width, size, weight) {
  const g = svg.append("g");
  const t = g.append("text").text(str).attr("font-family", FONT)
    .attr("font-size", size).attr("font-weight", weight || "normal").attr("fill", "#000");
  const w = t.node().getComputedTextLength();
  g.attr("transform", `translate(${x0},${y0}) scale(${width / w},1)`);
  return t;
}

// x title
fitText(xTitle, 584, 962, 156, 48);

// y title
{
  const g = svg.append("g");
  const t = g.append("text").attr("font-family", "'Liberation Serif', 'Times New Roman', serif")
    .attr("font-size", 30).attr("text-anchor", "middle").attr("fill", "#000");
  t.append("tspan").attr("font-style", "italic").text("2\u0394f/f");
  t.append("tspan").text(" / parts in 10");
  t.append("tspan").attr("font-size", 20).attr("dy", -12).text("6");
  const w = t.node().getComputedTextLength();
  g.attr("transform", `translate(38,462) rotate(-90) scale(${320 / w},1)`);
}

// legend
svg.append("line").attr("x1", 727).attr("x2", 778).attr("y1", 59).attr("y2", 59)
  .attr("stroke", "#0a14ff").attr("stroke-width", 4.5);
svg.append("line").attr("x1", 729).attr("x2", 780).attr("y1", 104).attr("y2", 104)
  .attr("stroke", "#800000").attr("stroke-width", 5).attr("stroke-linecap", "round")
  .attr("stroke-dasharray", "12,12,0.01,10,0.01,100");
fitText(legendLabels[0], 788, 71, 322, 39);
fitText(legendLabels[1], 787, 117, 345, 39);

// arrows
function arrowHead(tipX, yy, dir) {
  svg.append("path")
    .attr("d", `M${tipX},${yy} L${tipX - dir * 21},${yy - 5} L${tipX - dir * 21},${yy + 5} Z`)
    .attr("fill", "#000");
}
function hline(x1, x2, yy, dash) {
  const l = svg.append("line").attr("x1", x1).attr("x2", x2).attr("y1", yy).attr("y2", yy)
    .attr("stroke", "#000").attr("stroke-width", 1.6);
  if (dash) l.attr("stroke-dasharray", dash);
}
const yb = y(bottleArrowLevel), yf = y(flowArrowLevel);
// bottle 1 double arrow
hline(x(bottle1Span[0]) + 10, x(bottle1Span[1]) - 10, yb);
arrowHead(x(bottle1Span[0]) + 1, yb, -1);
arrowHead(x(bottle1Span[1]) - 1, yb, 1);
// bottle 2 arrow (open ended)
arrowHead(x(bottle2Span[0]) + 2, yb, -1);
hline(x(bottle2Span[0]) + 10, x(bottle2Span[1]), yb);
hline(x(bottle2Span[1]) + 4, x(bottle2Span[2]), yb, "11,8");
// flow arrows
arrowHead(x(flowSpans[0][0]) + 1, yf, -1);
hline(x(flowSpans[0][0]) + 10, 215, yf);
hline(502, x(flowSpans[0][1]) - 10, yf);
arrowHead(x(flowSpans[0][1]) - 1, yf, 1);
arrowHead(x(flowSpans[1][0]) + 2, yf, -1);
hline(x(flowSpans[1][0]) + 10, 627, yf);
hline(900, x(flowSpans[1][1]) - 10, yf);
arrowHead(x(flowSpans[1][1]), yf, 1);

// annotation texts
fitText("Bottle 1", 176, 655, 124, 30, "bold");
fitText("Bottle 2", 372, 655, 128, 30, "bold");
fitText("flow", 222, 805, 76, 45);
fitText("100 sccm", 319, 805, 177, 45);
fitText("flow 0.5 sccm", 633, 805, 262, 45);
</script>
</body></html>
